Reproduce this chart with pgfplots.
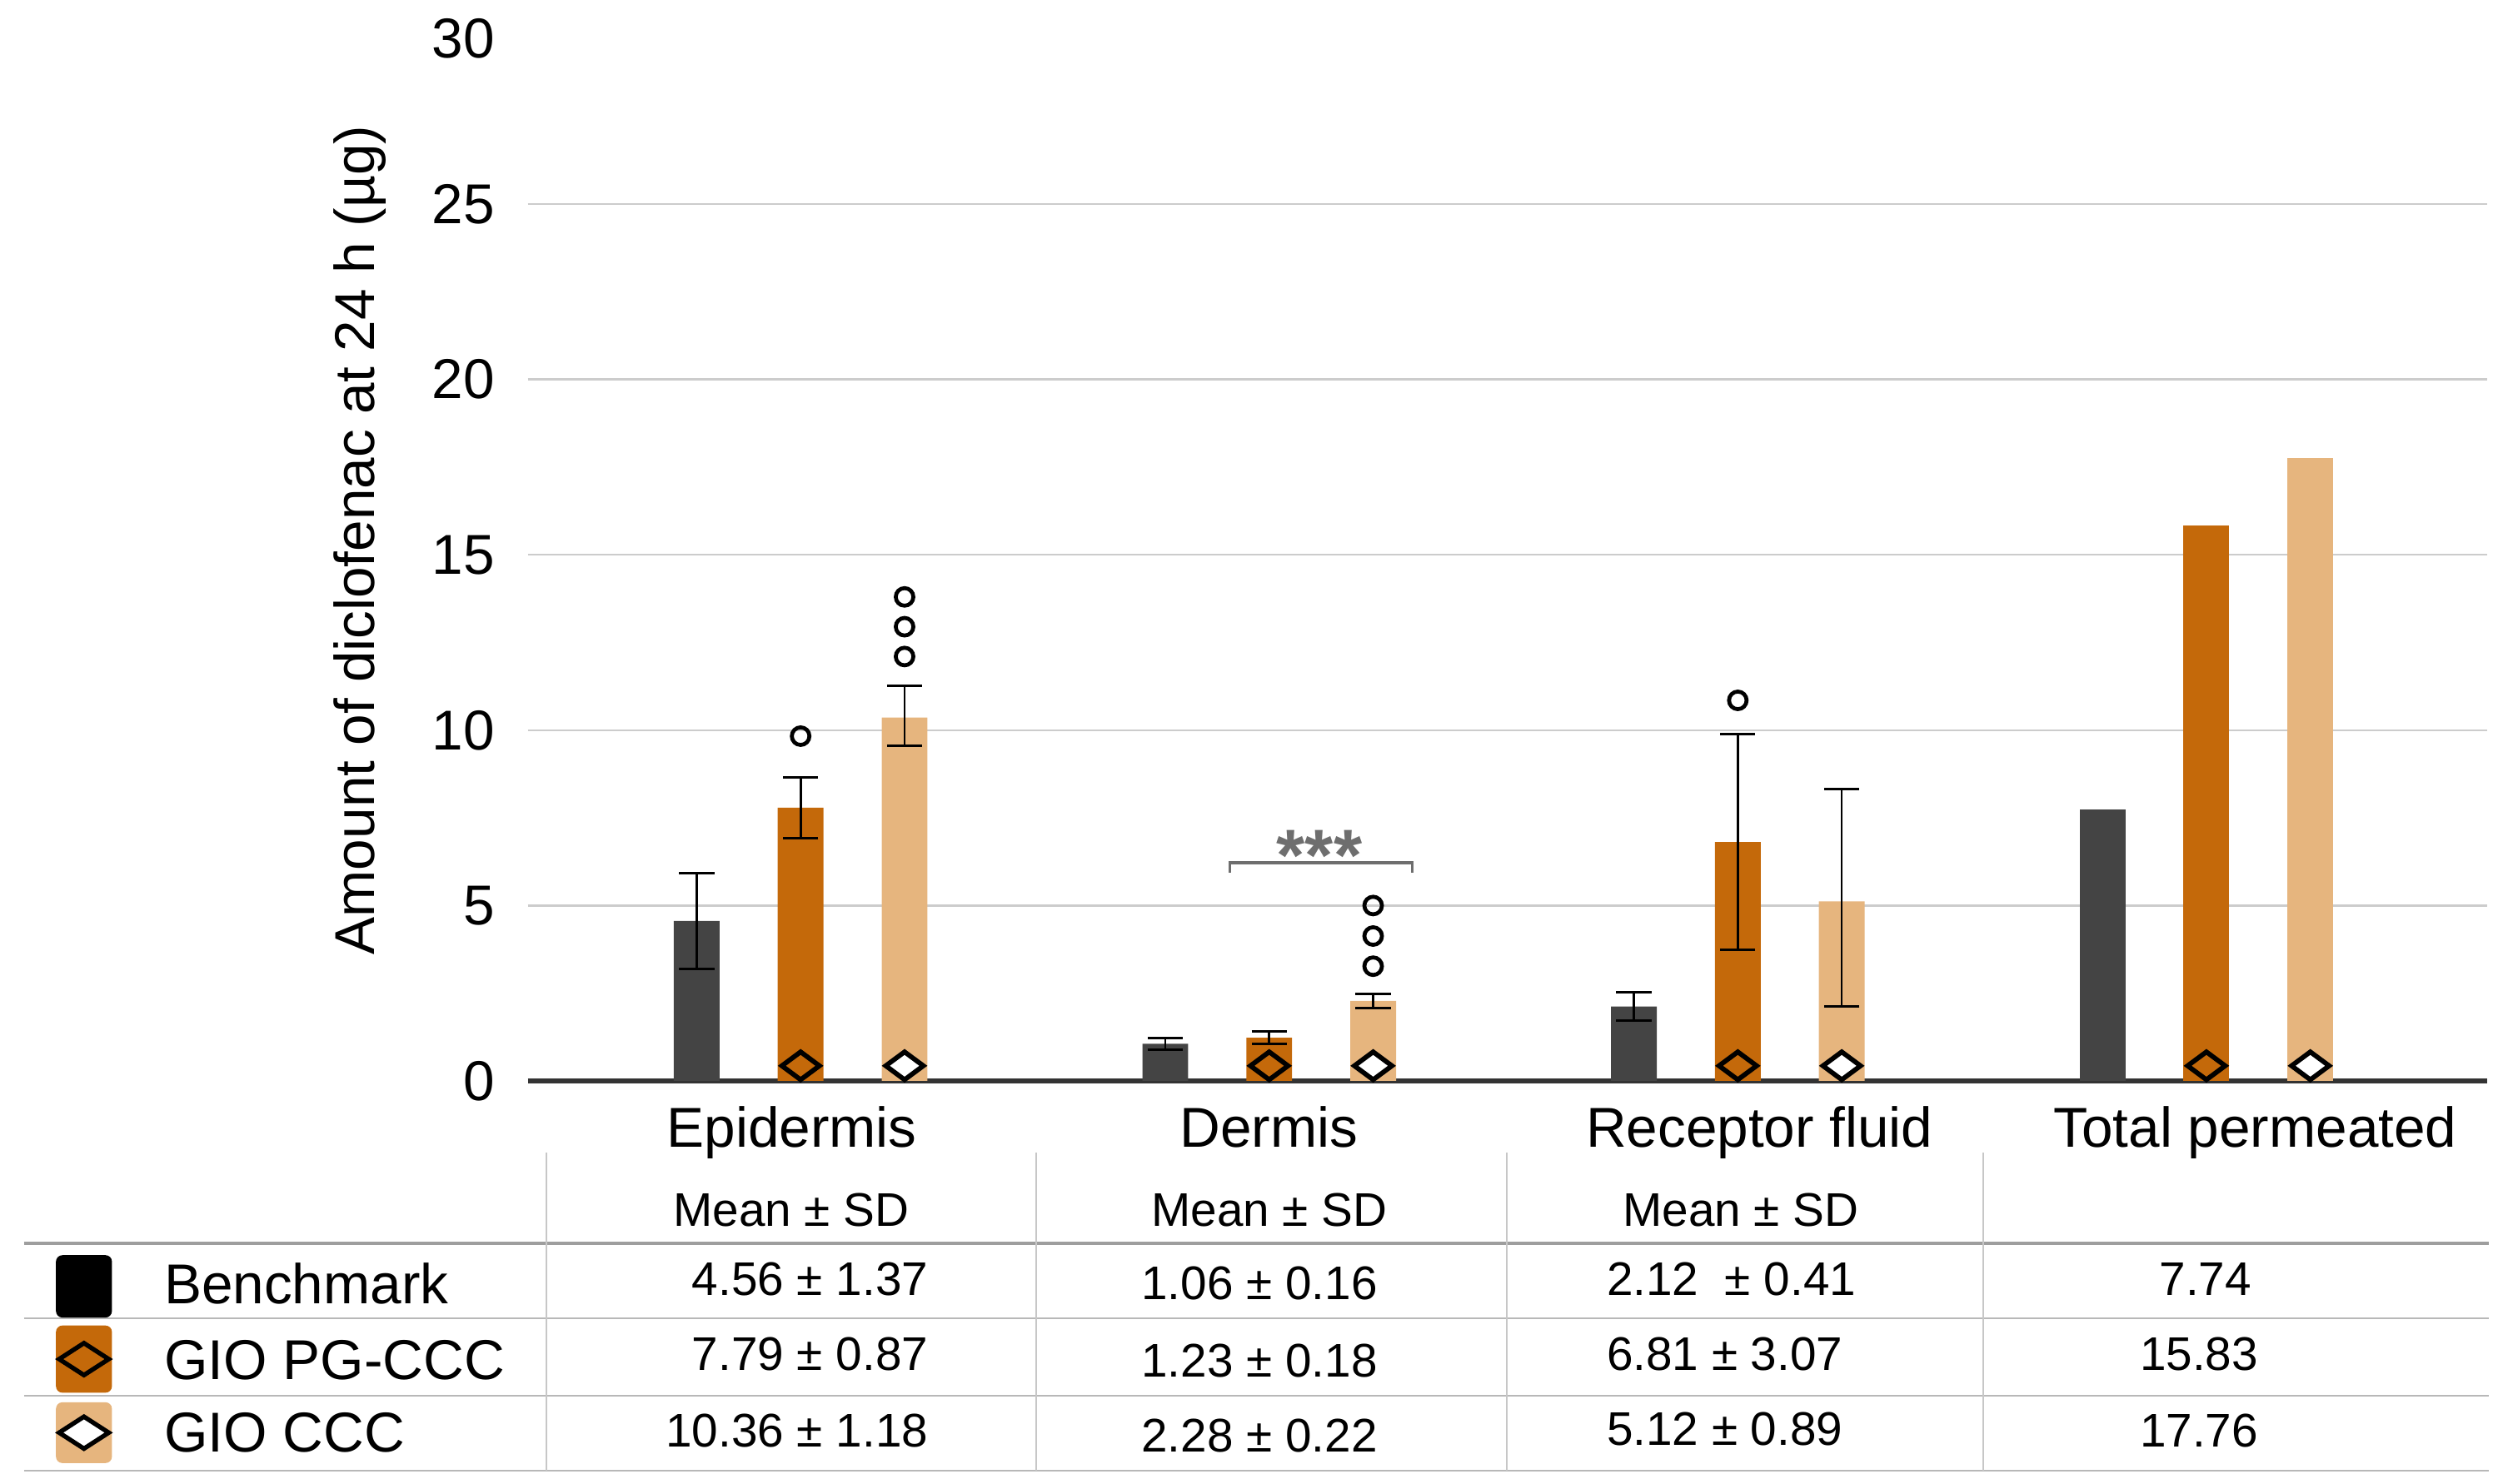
\documentclass[border=0pt]{standalone}
\usepackage{fontspec}
\setmainfont{Liberation Sans}
\usepackage{pgfplots}
\pgfplotsset{compat=1.18}
\definecolor{cBench}{HTML}{444444}
\definecolor{cPG}{HTML}{C4690A}
\definecolor{cCCC}{HTML}{E6B57E}
\newcommand{\fbig}{\fontsize{10}{12}\selectfont}
\newcommand{\fsmall}{\fontsize{8.4}{10}\selectfont}
\begin{document}
\begin{tikzpicture}
% table below the chart, in units of 0.1 mm, y running down
\begin{scope}[x=0.1mm,y=-0.1mm]
\path (0,0) rectangle (1568.2,927.6);
\draw[draw=black!38, line width=0.55pt] (15,777.6) -- (1556,777.6);
\foreach \yy in {824.5,873,919.7} \draw[black!28, line width=0.35pt] (15,\yy) -- (1556,\yy);
\foreach \xx in {341.5,648,942,1240} \draw[black!22, line width=0.3pt] (\xx,721) -- (\xx,919.7);
\fill[black, rounded corners=0.4mm] (35,785) rectangle (70,824);
\fill[cPG, rounded corners=0.4mm] (35,829) rectangle (70,871);
\fill[cCCC, rounded corners=0.4mm] (35,877) rectangle (70,915);
\draw[black, line width=0.8pt, fill=cPG] (52.5,840) -- (68,850) -- (52.5,860) -- (37,850) -- cycle;
\draw[black, line width=0.8pt, fill=white] (52.5,886) -- (68,896) -- (52.5,906) -- (37,896) -- cycle;
\node[anchor=base west, inner sep=0, font=\fbig] at (102,815.5) {Benchmark};
\node[anchor=base west, inner sep=0, font=\fbig] at (102,862.5) {GIO PG-CCC};
\node[anchor=base west, inner sep=0, font=\fbig] at (102,908) {GIO CCC};
\foreach \xx in {494.7,793.7,1088.5}
  \node[anchor=base, inner sep=0, font=\fsmall] at (\xx,767) {Mean ± SD};
% Epidermis
\node[anchor=base east, inner sep=0, font=\fsmall] at (581,810) {4.56 ± 1.37};
\node[anchor=base east, inner sep=0, font=\fsmall] at (581,857) {7.79 ± 0.87};
\node[anchor=base east, inner sep=0, font=\fsmall] at (581,905) {10.36 ± 1.18};
% Dermis
\node[anchor=base, inner sep=0, font=\fsmall] at (787.5,813) {1.06 ± 0.16};
\node[anchor=base, inner sep=0, font=\fsmall] at (787.5,861) {1.23 ± 0.18};
\node[anchor=base, inner sep=0, font=\fsmall] at (787.5,908) {2.28 ± 0.22};
% Receptor fluid
\node[anchor=base west, inner sep=0, font=\fsmall] at (1004,810) {2.12\ \ ± 0.41};
\node[anchor=base west, inner sep=0, font=\fsmall] at (1004,857) {6.81 ± 3.07};
\node[anchor=base west, inner sep=0, font=\fsmall] at (1004,904) {5.12 ± 0.89};
% Total permeated
\node[anchor=base, inner sep=0, font=\fsmall] at (1379,810) {7.74};
\node[anchor=base, inner sep=0, font=\fsmall] at (1375,857) {15.83};
\node[anchor=base, inner sep=0, font=\fsmall] at (1375,905) {17.76};
\end{scope}

\begin{axis}[
  at={(33mm,-67.6mm)}, anchor=south west,
  scale only axis, width=122.5mm, height=65.8mm,
  xmin=-0.5823, xmax=3.5986, ymin=0, ymax=30,
  enlargelimits=false, clip=false,
  axis x line*=bottom, axis y line*=left,
  x axis line style={draw=black!80, line width=0.8pt},
  y axis line style={draw=none},
  major tick length=0pt,
  ytick={0,5,...,25}, extra y ticks={30},
  extra y tick style={grid=none, tick label style={yshift=-0.6mm}},
  ymajorgrids, grid style={draw=black!20, line width=0.35pt},
  /pgf/number format/assume math mode=true,
  yticklabel style={font=\fbig, anchor=east, inner sep=0pt, xshift=-2mm},
  xtick={-0.019,0.999,2.046,3.104},
  xticklabels={Epidermis,Dermis,Receptor fluid,Total permeated},
  xticklabel style={font=\fbig, anchor=base, inner sep=0pt, yshift=-4.15mm},
  ylabel={Amount of diclofenac at 24 h (µg)},
  ylabel style={font=\fbig, at={(axis description cs:-0.0857,0.514)}, anchor=center},
  every axis plot/.append style={bar width=0.0976, bar shift=0pt},
  err/.style={error bars/.cd, y dir=both, y explicit,
    error bar style={black, line width=0.4pt},
    error mark options={rotate=90, black, line width=0.45pt, mark size=1.1mm}},
]
% Benchmark
\addplot[ybar, fill=cBench, draw=none, err] coordinates {
  (-0.2218,4.56) +- (0,1.37)
  (0.7782,1.06) +- (0,0.16)
  (1.7782,2.12) +- (0,0.41)
};
\addplot[ybar, fill=cBench, draw=none] coordinates {(2.7782,7.74)};
% GIO PG-CCC
\addplot[ybar, fill=cPG, draw=none, err] coordinates {
  (0,7.79) +- (0,0.87)
  (1,1.23) +- (0,0.18)
  (2,6.81) +- (0,3.07)
};
\addplot[ybar, fill=cPG, draw=none] coordinates {(3,15.83)};
% GIO CCC
\addplot[ybar, fill=cCCC, draw=none, err] coordinates {
  (0.2218,10.36) += (0,0.9) -= (0,0.8)
  (1.2218,2.28) +- (0,0.2)
  (2.2218,5.12) += (0,3.2) -= (0,3.0)
};
\addplot[ybar, fill=cCCC, draw=none] coordinates {(3.2218,17.76)};
% diamonds at the foot of the bars
\addplot[only marks, mark=diamond*, mark size=0.87mm,
  mark options={xscale=1.8, fill=cPG, draw=black, line width=0.85pt}]
  coordinates {(0,0.43) (1,0.43) (2,0.43) (3,0.43)};
\addplot[only marks, mark=diamond*, mark size=0.87mm,
  mark options={xscale=1.8, fill=white, draw=black, line width=0.85pt}]
  coordinates {(0.2218,0.43) (1.2218,0.43) (2.2218,0.43) (3.2218,0.43)};
% outliers
\addplot[only marks, mark=o, mark size=0.55mm, mark options={draw=black, line width=0.7pt}]
  coordinates {(0,9.83) (0.2218,13.8) (0.2218,12.95) (0.2218,12.1)
    (1.2218,5.0) (1.2218,4.13) (1.2218,3.27) (2,10.85)};
% significance bracket
\draw[black!57, line width=0.5pt] (axis cs:0.916,5.94) -- (axis cs:0.916,6.22)
  -- (axis cs:1.305,6.22) -- (axis cs:1.305,5.94);
\node[anchor=base, inner sep=0, text=black!57, font=\fontsize{13}{15}\selectfont\bfseries]
  at (axis cs:1.107,5.72) {***};
\end{axis}
\end{tikzpicture}
\end{document}
